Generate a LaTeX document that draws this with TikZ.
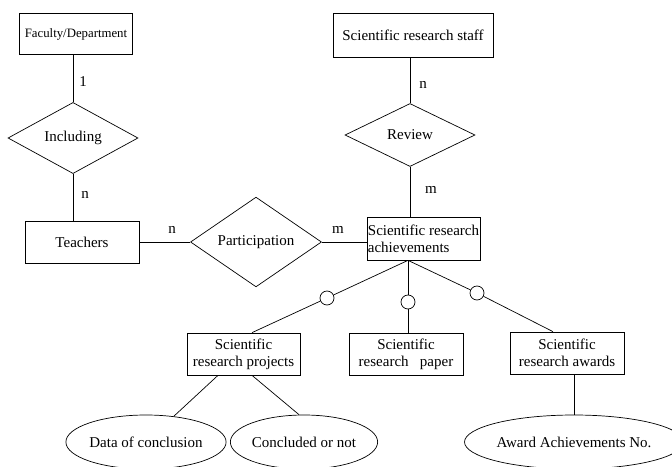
\documentclass[tikz,border=0pt]{standalone}
\usepackage{fontspec}
\setmainfont{Liberation Serif}
\usetikzlibrary{shapes.geometric}

\begin{document}
\begin{tikzpicture}[x=1pt, y=-1pt, line width=0.7pt,
    entity/.style={draw, rectangle, inner sep=2pt, font=\fontsize{15}{17}\selectfont},
    relation/.style={draw, diamond, inner sep=0pt, font=\fontsize{15}{17}\selectfont},
    attrib/.style={draw, ellipse, inner sep=0pt, font=\fontsize{15}{17}\selectfont},
    ring/.style={draw, circle, minimum size=14pt, inner sep=0pt},
    card/.style={font=\fontsize{15}{17}\selectfont}]
    \useasboundingbox (0,0) rectangle (672,466);
    % entities
    \node[entity, minimum width=113pt, minimum height=41pt, font=\fontsize{12.8}{15}\selectfont] (fac) at (76,34) {Faculty/Department};
    \node[entity, minimum width=114pt, minimum height=42pt] (teach) at (82,242) {Teachers};
    \node[entity, minimum width=160pt, minimum height=44pt] (staff) at (413,35) {Scientific research staff};
    \node[entity, minimum width=113pt, minimum height=43pt, inner sep=1pt, align=left] (ach) at (423.5,238.5) {Scientific research\\achievements};
    \node[entity, minimum width=113pt, minimum height=42pt, align=center] (proj) at (243.5,354) {Scientific\\research projects};
    \node[entity, minimum width=114pt, minimum height=42pt, align=center] (paper) at (406,354) {Scientific\\research\ \ \ paper};
    \node[entity, minimum width=114pt, minimum height=42pt, align=center] (award) at (567,353) {Scientific\\research awards};
    % relationships
    \node[relation, minimum width=130pt, minimum height=70pt] (incl) at (73,138) {Including};
    \node[relation, minimum width=131pt, minimum height=68pt] (part) at (256,242) {Participation};
    \node[relation, minimum width=130pt, minimum height=63pt] (rev) at (410,135) {Review};
    % attributes
    \node[attrib, minimum width=146pt, minimum height=54pt] (date) at (146,442) {Data of conclusion};
    \node[attrib, minimum width=138pt, minimum height=54pt] (done) at (304,442) {Concluded or not};
    \node[attrib, minimum width=196pt, minimum height=54pt] (awno) at (574,442) {Award Achievements No.};
    % subtype rings
    \coordinate (fan) at ([xshift=-15.5pt]ach.south);
    \node[ring] (r1) at (327,298) {};
    \node[ring] (r2) at (408,302) {};
    \node[ring] (r3) at (477,293) {};
    % connectors
    \draw (incl.north) -- (incl.north |- fac.south);
    \draw (incl.south) -- (incl.south |- teach.north);
    \draw (teach.east) -- (teach.east -| part.west);
    \draw (part.east) -- (part.east -| ach.west);
    \draw (rev.north) -- (rev.north |- staff.south);
    \draw (rev.south) -- (rev.south |- ach.north);
    \draw (fan) -- (r1) -- ([xshift=8.5pt]proj.north);
    \draw (fan) -- (r2) -- (r2 |- paper.north);
    \draw (fan) -- (r3) -- ([xshift=-14pt]award.north);
    \draw ([xshift=-25.5pt]proj.south) -- (date);
    \draw ([xshift=8.5pt]proj.south) -- ([xshift=-5pt]done.north);
    \draw (awno.north) -- (awno.north |- award.south);
    % cardinalities
    \node[card] (c1) at (83,82) {1};
    \node[card] (c2) at (85,195) {n};
    \node[card] (c3) at (172,230) {n};
    \node[card] (c4) at (338,230) {m};
    \node[card] (c5) at (423,85) {n};
    \node[card] (c6) at (431,190) {m};
\end{tikzpicture}
\end{document}
